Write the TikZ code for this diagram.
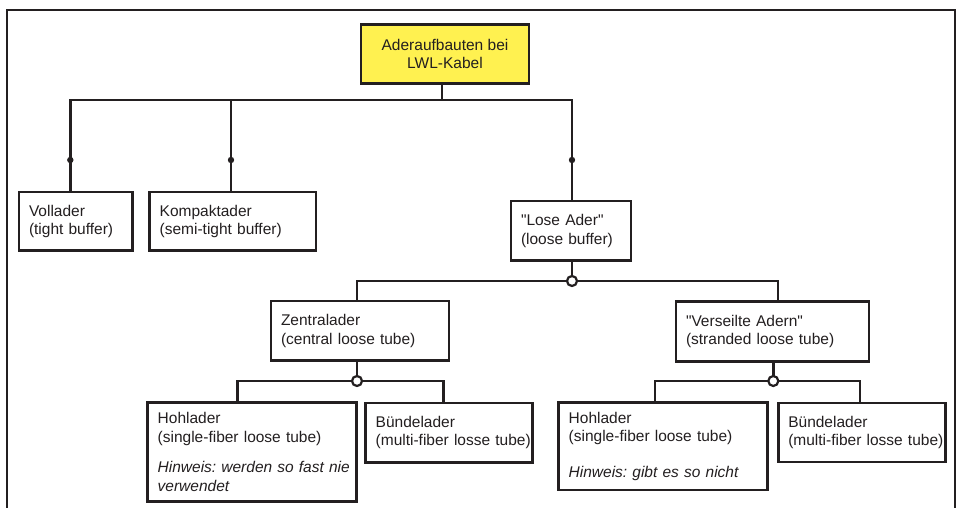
\documentclass[tikz,border=0pt]{standalone}
\usepackage{fontspec}
\setmainfont{Liberation Sans}[Ligatures=TeXOff]
\definecolor{ink}{HTML}{231F20}
\definecolor{yel}{HTML}{FFF150}
\newcommand\nobr[1]{\mbox{#1}}
\frenchspacing
\begin{document}
\begin{tikzpicture}[x=1pt,y=-1pt,
  every node/.style={text=ink, font=\fontsize{15.5}{18.5}\selectfont},
  box/.style={draw=ink, line width=2.6pt, fill=white, inner xsep=10pt, inner ysep=0pt, align=left},
  wire/.style={draw=ink, line width=2.6pt, line join=miter},
  dotmark/.style={fill=ink},
  ring/.style={draw=ink, line width=2.2pt, fill=white}]
\useasboundingbox (0,0) rectangle (962,508);
\draw[ink, line width=2.2pt] (7,510) -- (7,10) -- (954.7,10) -- (954.7,510);

% nodes
\node[box, fill=yel, align=center, minimum width=168pt, minimum height=59pt] (top) at (445,53.8) {Aderaufbauten bei\\LWL-Kabel};
\node[box, text width=93.3pt, minimum height=58.5pt] (voll) at (75.65,221.25) {\nobr{Vollader}\\\nobr{(tight buffer)}};
\node[box, text width=146.3pt, minimum height=58.5pt] (komp) at (232.85,221.25) {\nobr{Kompaktader}\\\nobr{(semi-tight buffer)}};
\node[box, text width=100pt, minimum height=59.5pt] (lose) at (571,230.75) {\nobr{"Lose Ader"}\\\nobr{(loose buffer)}};
\node[box, text width=158pt, minimum height=59.5pt] (zent) at (360,330.75) {\nobr{Zentralader}\\\nobr{(central loose tube)}};
\node[box, text width=173pt, minimum height=60pt] (vers) at (772.5,331.5) {\nobr{"Verseilte Adern"}\\\nobr{(stranded loose tube)}};
\node[box, text width=189pt, minimum height=98.8pt] (hohlL) at (252.2,452.1) {\nobr{Hohlader}\\\nobr{(single-fiber loose tube)}\\[12pt]\nobr{\itshape Hinweis: werden so fast nie}\\\nobr{\itshape verwendet}};
\node[box, text width=146.6pt, minimum height=59.3pt] (buendL) at (449,432.65) {\nobr{Bündelader}\\\nobr{(multi-fiber losse tube)}};
\node[box, text width=188.6pt, minimum height=87.7pt] (hohlR) at (663,446.15) {\nobr{Hohlader}\\\nobr{(single-fiber loose tube)}\\[17pt]\nobr{\itshape Hinweis: gibt es so nicht}};
\node[box, text width=147.4pt, minimum height=59pt] (buendR) at (862,432.5) {\nobr{Bündelader}\\\nobr{(multi-fiber losse tube)}};

% level 1
\coordinate (b1) at (442,100);
\coordinate (v1) at (70.3,100);
\coordinate (v2) at (231,100);
\coordinate (v3) at (572,100);
\draw[wire] (top.south -| b1) -- (b1);
\draw[wire] (v1 |- voll.north) -- (v1) -- (v3) -- (v3 |- lose.north);
\draw[wire] (v2) -- (v2 |- komp.north);
\fill[dotmark] (v1) ++(0,60) circle (3.2pt);
\fill[dotmark] (v2) ++(0,60) circle (3.2pt);
\fill[dotmark] (v3) ++(0,60) circle (3.2pt);

% level 2
\coordinate (c1) at (572,281);
\coordinate (z1) at (357,281);
\coordinate (z2) at (778,281);
\draw[wire] (lose.south -| c1) -- (c1);
\draw[wire] (z1 |- zent.north) -- (z1) -- (z2) -- (z2 |- vers.north);
\draw[ring] (c1) circle (5pt);

% level 3 left
\coordinate (c2) at (357,381);
\coordinate (h1) at (237.7,381);
\coordinate (h2) at (443.3,381);
\draw[wire] (zent.south -| c2) -- (c2);
\draw[wire] (h1 |- hohlL.north) -- (h1) -- (h2) -- (h2 |- buendL.north);
\draw[ring] (c2) circle (5pt);

% level 3 right
\coordinate (c3) at (773.3,381);
\coordinate (h3) at (655,381);
\coordinate (h4) at (860,381);
\draw[wire] (vers.south -| c3) -- (c3);
\draw[wire] (h3 |- hohlR.north) -- (h3) -- (h4) -- (h4 |- buendR.north);
\draw[ring] (c3) circle (5pt);
\end{tikzpicture}
\end{document}
